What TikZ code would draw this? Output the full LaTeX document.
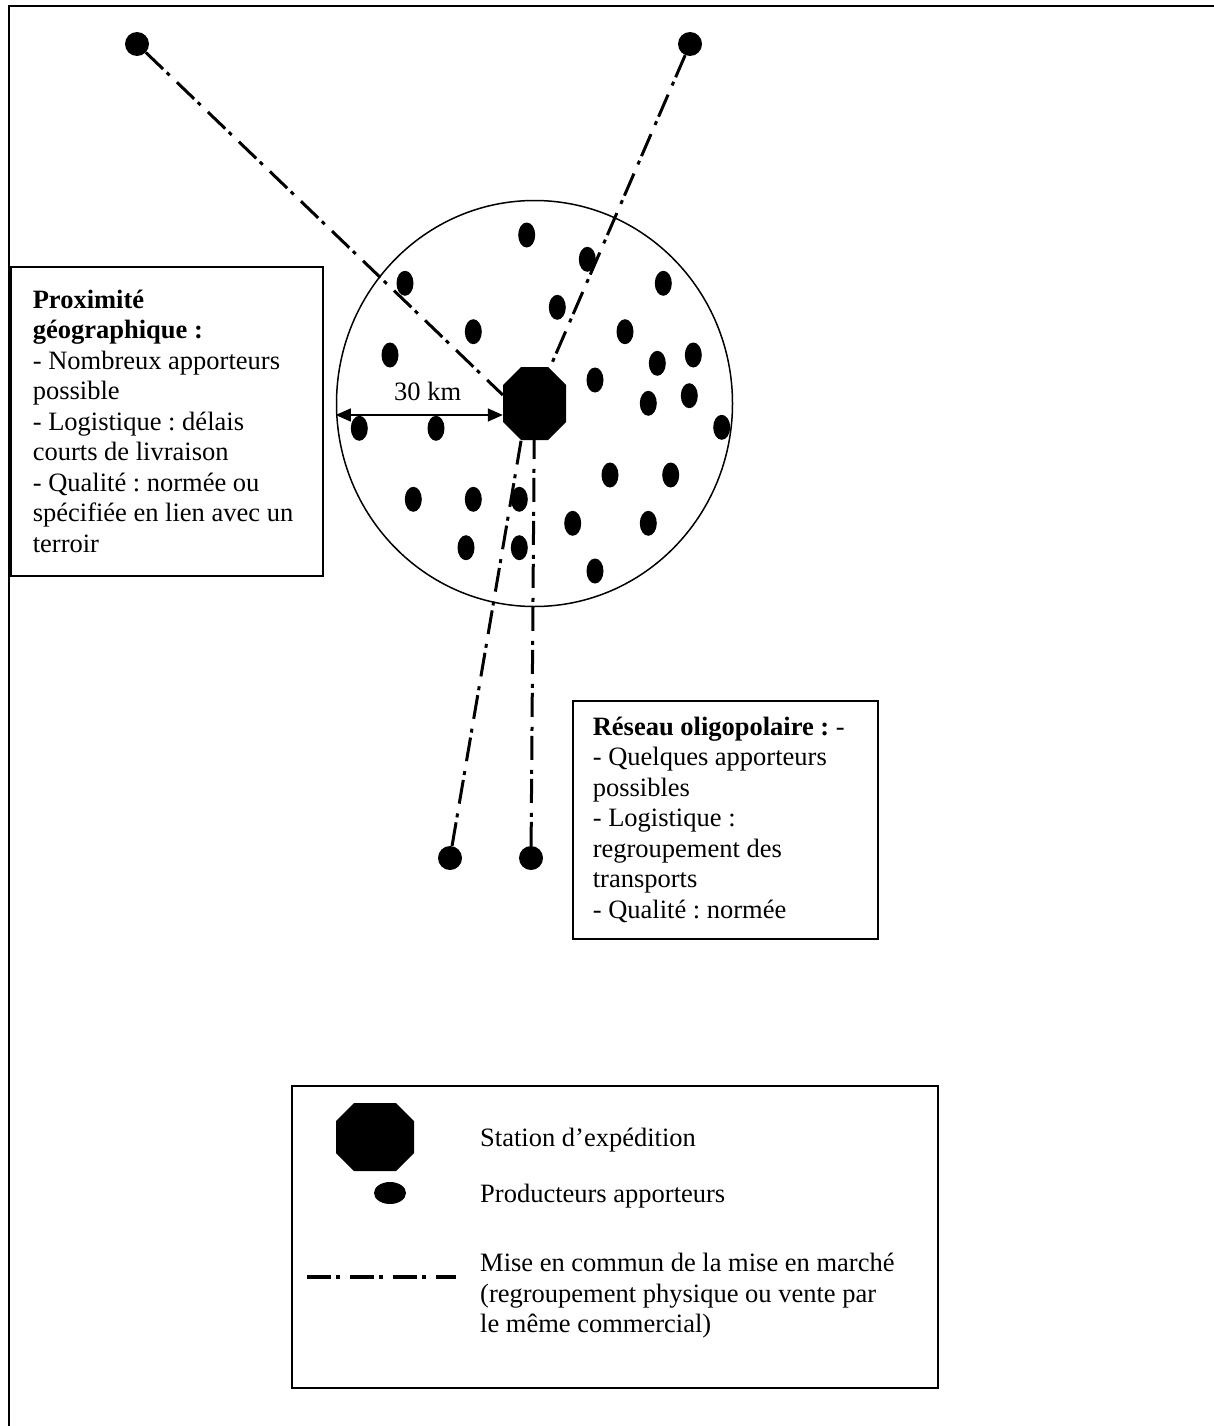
\documentclass[tikz,border=0pt]{standalone}
\usepackage{fontspec}
\setmainfont{Liberation Serif}
\usetikzlibrary{shapes.geometric,arrows.meta,positioning}
\tikzset{
  station/.style={
    shape = rectangle,
    inner sep = 0pt,
    minimum width = 63pt,
    minimum height = 73pt,
    path picture={
      \fill ([xshift=18pt]path picture bounding box.north west)
        -- ([xshift=-18pt]path picture bounding box.north east)
        -- ([yshift=-18pt]path picture bounding box.north east)
        -- ([yshift=18pt]path picture bounding box.south east)
        -- ([xshift=-18pt]path picture bounding box.south east)
        -- ([xshift=18pt]path picture bounding box.south west)
        -- ([yshift=18pt]path picture bounding box.south west)
        -- ([yshift=-18pt]path picture bounding box.north west) -- cycle;
    }
  },
  producer/.style={
    shape = ellipse,
    inner sep = 0pt,
    fill = black,
    minimum width = 17pt,
    minimum height = 25pt
  },
  endpoint/.style={
    shape = circle,
    inner sep = 0pt,
    fill = black,
    minimum size = 24pt
  },
  infobox/.style={
    draw,
    line width = 1.6pt,
    align = flush left,
    inner ysep = 0pt,
    anchor = north west
  },
  legendtext/.style={
    inner sep = 0pt,
    anchor = base west
  },
  mise/.style={
    line width = 3pt,
    dash pattern = on 24pt off 5pt on 4pt off 10pt
  },
  every picture/.style = {
    x = 1pt,
    y = -1pt,
    font = \fontsize{26.5pt}{30.5pt}\selectfont\frenchspacing
  }
}
\begin{document}
\begin{tikzpicture}
  \useasboundingbox (0,0) rectangle (1214,1426);
  \draw[line width=2pt] (9,1426) -- (9,6) -- (1214,6);

  \node[draw, ellipse, line width=1.5pt, inner sep=0pt, minimum width=396pt, minimum height=406pt] (zone) at (534.5,403.5) {};
  \foreach \x/\y [count=\i] in {526.7/235, 587.3/259.3, 405/283.3, 663.3/283.3, 557.3/307.3,
      473.3/331.7, 625/331.7, 390/355, 693.3/355, 657.3/363.3, 595/380, 689.3/395.7,
      648.3/403.3, 359.3/428.3, 436/428.3, 721.7/427.3, 610/475, 670.7/475, 413.3/499.3,
      473.3/499.3, 519.3/499.3, 572.7/523.3, 648.3/523.3, 466/547.7, 519.3/547.7, 595/571}{
    \node[producer] (p\i) at (\x,\y) {};
  }
  \node[station] (st) at (534.5,403.5) {};

  \node[endpoint] (a) at (137,44) {};
  \node[endpoint] (b) at (690,44) {};
  \node[endpoint] (c) at (450,858) {};
  \node[endpoint] (d) at (531,858) {};
  \draw[mise] (a) -- (st.165);
  \draw[mise] (b) -- (st);
  \draw[mise] (c) -- (st.250);
  \draw[mise] (d) -- (st);

  \draw[{Triangle[length=15pt,width=13pt]}-{Triangle[length=15pt,width=13pt]}, line width=1.5pt]
    ([yshift=-11.5pt]zone.west) -- node[pos=0.55, above=13pt, inner sep=0pt] (km) {30 km} ([yshift=-11.5pt]st.west);

  \node[infobox, text width=268pt, inner xsep=22pt, minimum height=309pt] (prox) at (10,266)
    {{\bfseries Proximité}\\{\bfseries géographique :}\\- Nombreux apporteurs\\possible\\- Logistique : délais\\courts de livraison\\- Qualité : normée ou\\spécifiée en lien avec un\\terroir};
  \node[infobox, text width=265pt, inner xsep=20pt, minimum height=238pt] (reseau) at (572,700)
    {{\bfseries Réseau oligopolaire :} -\\- Quelques apporteurs\\possibles\\- Logistique :\\regroupement des\\transports\\- Qualité : normée};

  \node[draw, line width=1.6pt, inner sep=0pt, minimum width=646pt, minimum height=302pt, anchor=north west] (legend) at (291,1085) {};
  \node[station, minimum width=78pt, minimum height=68pt] (lst) at (375,1137) {};
  \node[legendtext] (lsttxt) at (480,1146) {Station d’expédition};
  \node[producer, minimum width=32pt, minimum height=22pt] (lpr) at (390,1193) {};
  \node[legendtext] (lprtxt) at (480,1202) {Producteurs apporteurs};
  \coordinate (lm1) at (307,1277);
  \coordinate (lm2) at (456,1277);
  \draw[mise, line width=4pt] (lm1) -- (lm2);
  \node[inner sep=0pt, anchor=north west, align=left] (lmtxt) at (480,1250)
    {\strut Mise en commun de la mise en marché\\(regroupement physique ou vente par\\le même commercial)};
\end{tikzpicture}
\end{document}
